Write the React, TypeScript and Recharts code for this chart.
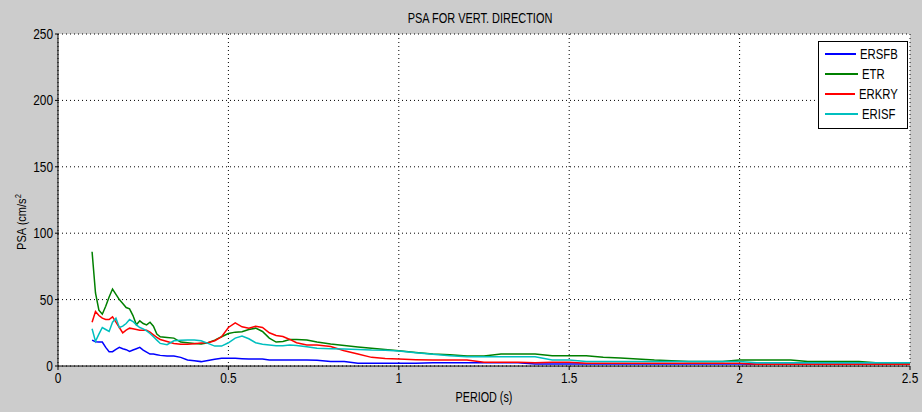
import { LineChart, Line, XAxis, YAxis, CartesianGrid } from 'recharts';

const periods = [
  0.1, 0.11, 0.12, 0.13, 0.14, 0.15, 0.16, 0.17, 0.18, 0.19, 0.2, 0.21, 0.22, 0.23, 0.24, 0.25, 0.26, 0.27, 0.28, 0.29, 0.3,
  0.32, 0.34, 0.36, 0.38, 0.4, 0.42, 0.44, 0.46, 0.48, 0.5, 0.52, 0.54, 0.56, 0.58, 0.6, 0.62, 0.64, 0.66, 0.68, 0.7,
  0.73, 0.76, 0.8, 0.84, 0.88, 0.92, 0.96, 1.0,
  1.05, 1.1, 1.15, 1.2, 1.25, 1.3, 1.35, 1.4, 1.45, 1.5, 1.55, 1.6, 1.65, 1.7, 1.75, 1.8, 1.85, 1.9, 1.95, 2.0,
  2.05, 2.1, 2.15, 2.2, 2.25, 2.3, 2.35, 2.4, 2.45, 2.5,
];

const ersfb = [
  19.5, 18.3, 18, 18, 14, 10.8, 10.8, 12.5, 14, 13, 12.3, 11, 12, 13, 14, 12, 10.5, 9, 9, 8.5, 8,
  7.5, 7.5, 6.5, 4.5, 4, 3.3, 4.2, 5, 5.8, 5.8, 5.8, 5.5, 5.3, 5.3, 5.3, 4.5, 4.5, 4.5, 4.5, 4.5,
  4.5, 4.3, 3.3, 3.3, 2, 2, 2, 2,
  2, 2.5, 2.5, 2.5, 2.5, 2.5, 2.5, 1.5, 1.5, 1.5, 1.5, 1.5, 1.5, 1.5, 1.5, 1.5, 1.5, 1.5, 1.5, 1.5,
  1.3, 1.3, 1.3, 1.3, 1.3, 1.3, 1.3, 1.3, 1.3, 1.3,
];

const etr = [
  86, 55, 42, 39, 45, 52, 58, 54, 50, 47, 44, 43, 38, 31, 34, 32, 31, 33, 30, 24, 22,
  21.5, 21, 18, 17.5, 17, 16.5, 17.5, 19.5, 22, 24.5, 25.5, 25.8, 27.5, 28.5, 26, 21, 18, 18.5, 20, 20,
  19.5, 18, 16.5, 15.5, 14.3, 13.3, 12.5, 11.5,
  10.2, 9, 8.5, 7.5, 7.5, 9, 9, 9, 7.8, 7.8, 7.8, 6.5, 6, 5.3, 4.5, 4, 3.3, 3.3, 3.3, 4.5,
  4.5, 4.5, 4.5, 3.3, 3.3, 3.3, 3.3, 2.5, 2.5, 2.5,
];

const erkry = [
  33, 41, 38, 36, 35, 35, 37, 33, 29, 25, 27, 28.5, 28, 27.5, 27, 27, 27, 25.5, 23.5, 21.5, 20,
  18.5, 17, 16.3, 16.3, 16.8, 17.3, 17.5, 19, 22, 29, 32.5, 29.5, 28.5, 30, 29, 25, 23, 22.2, 20, 17.5,
  15.8, 15.8, 14.6, 11.5, 9, 6.5, 5.6, 5.3,
  4.8, 4.5, 4.5, 4.5, 2.8, 2.8, 2.8, 2.5, 2.8, 2.8, 2, 2, 2, 2, 2, 2, 2, 2, 2, 2,
  1.3, 1.3, 1.3, 1.3, 1.3, 1.3, 1.3, 1.3, 1.3, 1.3,
];

const erisf = [
  28, 18.5, 24, 29, 27.5, 26, 33, 36, 29, 30, 32, 35, 33.5, 31, 29, 28, 26.5, 24.5, 22, 19.5, 17,
  16, 19, 19.3, 19.5, 19.6, 19, 17, 15, 15, 17.5, 21, 22.6, 20.5, 17.5, 16.3, 15.8, 15.3, 15.3, 15.8, 15.5,
  14.5, 13.3, 13, 12.8, 12.5, 12, 11.8, 11.3,
  10, 8.8, 7.8, 7, 7, 7, 7, 7, 4.5, 4.5, 3.3, 3.3, 3.3, 3.3, 3.3, 3.3, 3.3, 3.3, 3.3, 3.3,
  2.5, 2.5, 2.5, 2.5, 2.5, 2.5, 2.5, 2.5, 2.5, 2.5,
];

const xTicks = [0, 0.5, 1, 1.5, 2, 2.5];
const yTicks = [0, 50, 100, 150, 200, 250];

const seriesList = [
  { key: 'ERSFB', values: ersfb, color: '#0000ff' },
  { key: 'ETR', values: etr, color: '#008000' },
  { key: 'ERKRY', values: erkry, color: '#ff0000' },
  { key: 'ERISF', values: erisf, color: '#00bfbf' },
];

const data = periods.map((p, i) => {
  const row: Record<string, number> = { period: p };
  seriesList.forEach((s) => {
    row[s.key] = s.values[i];
  });
  return row;
});

// matlab-ish narrow text: Liberation Sans squeezed horizontally
const FONT = '"Liberation Sans", Arial, sans-serif';

function XTick({ x, y, payload }: any) {
  return (
    <g transform={`translate(${x},${y})`}>
      <text transform="scale(0.85,1)" textAnchor="middle" dy={11} fontFamily={FONT} fontSize={14} fill="#000">
        {payload.value}
      </text>
    </g>
  );
}

function YTick({ x, y, payload }: any) {
  return (
    <g transform={`translate(${x},${y})`}>
      <text transform="scale(0.85,1)" textAnchor="end" dy={5} fontFamily={FONT} fontSize={14} fill="#000">
        {payload.value}
      </text>
    </g>
  );
}

function XLabel({ viewBox }: any) {
  const cx = viewBox.x + viewBox.width / 2;
  return (
    <g transform={`translate(${cx},${viewBox.y + 36})`}>
      <text transform="scale(0.77,1)" textAnchor="middle" fontFamily={FONT} fontSize={14} fill="#000">
        PERIOD (s)
      </text>
    </g>
  );
}

function YLabel() {
  return (
    <g transform="translate(26,222) rotate(-90)">
      <text transform="scale(0.85,1)" textAnchor="middle" fontFamily={FONT} fontSize={13} fill="#000">
        PSA (cm/s<tspan dy={-5} fontSize={9}>2</tspan>
      </text>
    </g>
  );
}

function LegendBox() {
  return (
    <div
      style={{
        position: 'absolute',
        left: 818,
        top: 41,
        width: 90,
        height: 88,
        background: '#fff',
        border: '1px solid #000',
        boxSizing: 'border-box',
        paddingTop: 2,
      }}
    >
      {seriesList.map((s) => (
        <div key={s.key} style={{ display: 'flex', alignItems: 'center', height: 20 }}>
          <div style={{ width: 33, height: 2, background: s.color, marginLeft: 6, marginRight: 4 }} />
          <span
            style={{
              display: 'inline-block',
              fontFamily: FONT,
              fontSize: 14,
              color: '#000',
              lineHeight: '14px',
              transform: 'scaleX(0.81)',
              transformOrigin: 'left center',
            }}
          >
            {s.key}
          </span>
        </div>
      ))}
    </div>
  );
}

export default function App() {
  return (
    <div style={{ position: 'relative', width: 922, height: 412, background: '#cccccc' }}>
      <style>{'body{margin:0}'}</style>
      <div
        style={{
          position: 'absolute',
          top: 9,
          left: 54,
          width: 852,
          textAlign: 'center',
          fontFamily: FONT,
          fontSize: 15,
          lineHeight: '17px',
          color: '#000',
          transform: 'scaleX(0.73)',
        }}
      >
        PSA FOR VERT. DIRECTION
      </div>
      <LineChart width={922} height={412} data={data} margin={{ top: 34, right: 12, bottom: 6, left: 30 }}>
        <CartesianGrid stroke="#000" strokeDasharray="1 3" fill="#fff" fillOpacity={1} />
        <XAxis
          dataKey="period"
          type="number"
          domain={[0, 2.5]}
          ticks={xTicks}
          height={40}
          stroke="#000"
          tickSize={4}
          tick={<XTick />}
          label={<XLabel />}
        />
        <XAxis xAxisId="top" orientation="top" type="number" domain={[0, 2.5]} ticks={xTicks} height={0} stroke="#000" tick={false} tickLine={false} />
        <YAxis
          type="number"
          domain={[0, 250]}
          ticks={yTicks}
          width={28}
          stroke="#000"
          tickSize={3}
          tick={<YTick />}
          label={<YLabel />}
        />
        <YAxis yAxisId="right" orientation="right" type="number" domain={[0, 250]} ticks={yTicks} width={0} stroke="#000" tick={false} tickLine={false} />
        {seriesList.map((s) => (
          <Line
            key={s.key}
            dataKey={s.key}
            stroke={s.color}
            strokeWidth={1.5}
            dot={false}
            type="linear"
            isAnimationActive={false}
          />
        ))}
      </LineChart>
      <LegendBox />
    </div>
  );
}
